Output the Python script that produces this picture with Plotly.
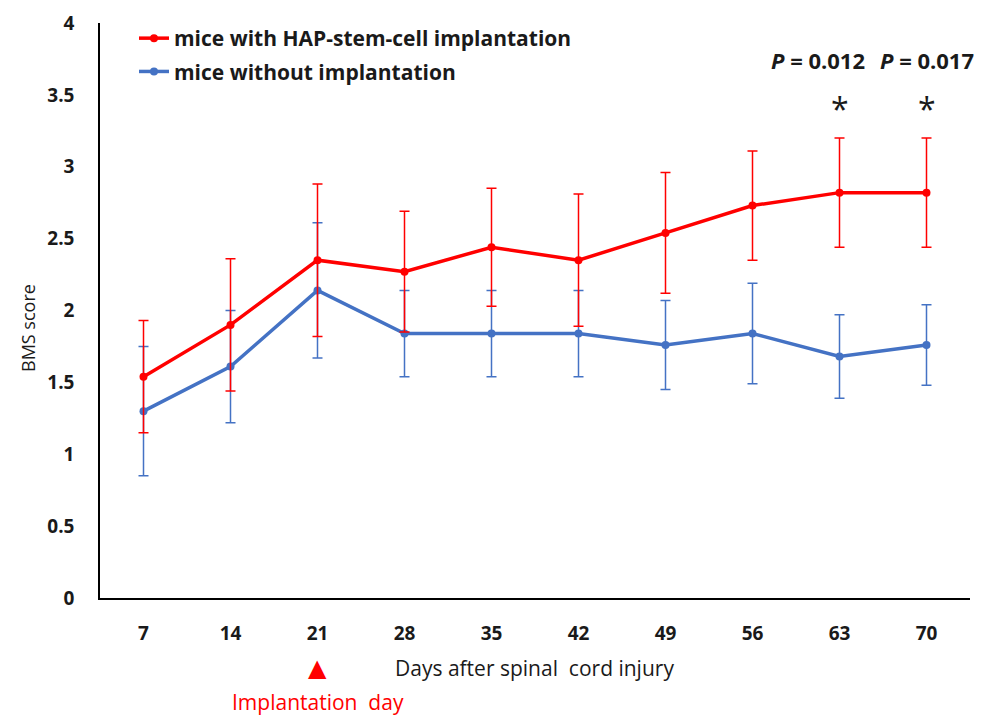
import plotly.graph_objects as go

days = [7, 14, 21, 28, 35, 42, 49, 56, 63, 70]
day_labels = [str(d) for d in days]

hap_mean = [1.54, 1.90, 2.35, 2.27, 2.44, 2.35, 2.54, 2.73, 2.82, 2.82]
hap_err = [0.39, 0.46, 0.53, 0.42, 0.41, 0.46, 0.42, 0.38, 0.38, 0.38]

ctrl_mean = [1.30, 1.61, 2.14, 1.84, 1.84, 1.84, 1.76, 1.84, 1.68, 1.76]
ctrl_err = [0.45, 0.39, 0.47, 0.30, 0.30, 0.30, 0.31, 0.35, 0.29, 0.28]

y_ticks = [0, 0.5, 1, 1.5, 2, 2.5, 3, 3.5, 4]
y_tick_labels = ["0", "0.5", "1", "1.5", "2", "2.5", "3", "3.5", "4"]

p_labels = ["<i>P</i> = 0.012", "<i>P</i> = 0.017"]
p_days = [63, 70]
implant_day = 21

RED = "#FF0000"
BLUE = "#4472C4"
FONT = "Open Sans, DejaVu Sans, sans-serif"
TXT = "#1a1a1a"

# page has an 8px body margin; plot area at page x 100..970, y 23..598
BODY = 8
LEFT, RIGHT, TOP, BOTTOM = 100, 970, 23, 598
W, H = 988, 717


def px(x):
    return (x - LEFT) / (RIGHT - LEFT)


def py(y):
    return (BOTTOM - y) / (BOTTOM - TOP)


fig = go.Figure()

fig.add_trace(go.Scatter(
    x=day_labels, y=ctrl_mean, name="<b>mice without implantation</b>",
    mode="lines+markers", legendrank=2, legendgroup="b",
    line=dict(color=BLUE, width=3.5), marker=dict(color=BLUE, size=8),
    error_y=dict(type="data", array=ctrl_err, visible=True,
                 color=BLUE, thickness=1.5, width=5),
))
fig.add_trace(go.Scatter(
    x=day_labels, y=hap_mean, name="<b>mice with HAP-stem-cell implantation</b>",
    mode="lines+markers", legendrank=1, legendgroup="a",
    line=dict(color=RED, width=3.5), marker=dict(color=RED, size=8),
    error_y=dict(type="data", array=hap_err, visible=True,
                 color=RED, thickness=1.5, width=5),
))

annotations = []
for lab, d, xs in zip(p_labels, p_days, [-22, 0]):
    idx = days.index(d)
    annotations.append(dict(
        x=idx, y=py(60), xref="x", yref="paper", text=f"<b>{lab}</b>",
        showarrow=False, xshift=xs, yanchor="middle",
        font=dict(size=22, color=TXT, family=FONT),
    ))
    annotations.append(dict(
        x=idx, y=py(108), xref="x", yref="paper", text="*", showarrow=False,
        yanchor="middle", font=dict(size=32, color=TXT, family=FONT),
    ))

imp_idx = days.index(implant_day)
annotations += [
    dict(x=px(28), y=py(328), xref="paper", yref="paper",
         text="BMS score", textangle=-90, showarrow=False,
         xanchor="center", yanchor="middle",
         font=dict(size=18, color=TXT, family=FONT)),
    dict(x=imp_idx, y=py(668), xref="x", yref="paper", text="▲",
         showarrow=False, yanchor="middle",
         font=dict(size=24, color=RED, family="DejaVu Sans")),
    dict(x=px(534), y=py(668), xref="paper", yref="paper",
         text="Days after spinal  cord injury", showarrow=False,
         xanchor="center", yanchor="middle",
         font=dict(size=21, color=TXT, family=FONT)),
    dict(x=imp_idx, y=py(702), xref="x", yref="paper",
         text="Implantation  day", showarrow=False, yanchor="middle",
         font=dict(size=21, color=RED, family=FONT)),
]

fig.update_layout(
    width=W, height=H,
    margin=dict(l=LEFT - BODY, r=W + BODY - RIGHT, t=TOP - BODY,
                b=H + BODY - BOTTOM, autoexpand=False),
    paper_bgcolor="white", plot_bgcolor="white",
    showlegend=True,
    legend=dict(x=px(134), y=py(18), xanchor="left", yanchor="top",
                traceorder="grouped", tracegroupgap=3,
                font=dict(size=21, color=TXT, family=FONT),
                bgcolor="rgba(0,0,0,0)", itemwidth=30),
    annotations=annotations,
    font=dict(family=FONT, color=TXT),
)

fig.update_xaxes(
    type="category", categoryorder="array", categoryarray=day_labels,
    range=[-0.5, 9.5], showline=True, linecolor="black", linewidth=1.5,
    showgrid=False, zeroline=False, ticks="outside", ticklen=17,
    tickcolor="rgba(0,0,0,0)", automargin=False, ticklabeloverflow="allow",
    tickvals=day_labels, ticktext=[f"<b>{t}</b>" for t in day_labels],
    tickfont=dict(size=19, color=TXT, family=FONT),
)
fig.update_yaxes(
    range=[0, 4], showline=True, linecolor="black", linewidth=1.5,
    showgrid=False, zeroline=False, ticks="outside", ticklen=20,
    tickcolor="rgba(0,0,0,0)", automargin=False, ticklabeloverflow="allow",
    tickvals=y_ticks, ticktext=[f"<b>{t}</b>" for t in y_tick_labels],
    tickfont=dict(size=19, color=TXT, family=FONT),
)

fig.write_html("out.html")
